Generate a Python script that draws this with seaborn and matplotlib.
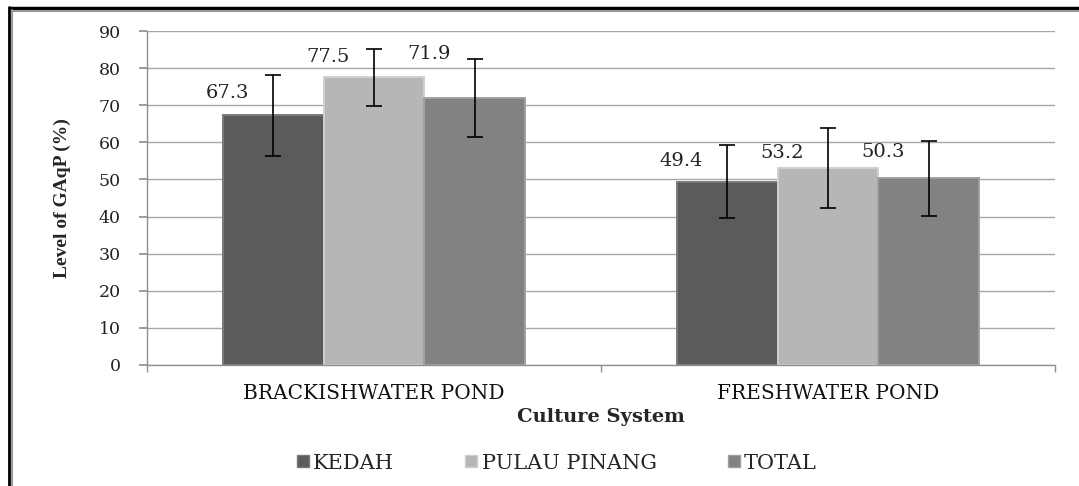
import matplotlib
matplotlib.use("Agg")
import matplotlib.pyplot as plt
from matplotlib.lines import Line2D
import numpy as np
import pandas as pd
import seaborn as sns

# ── data ───────────────────────────────────────────────────────────────────────
systems = ["BRACKISHWATER POND", "FRESHWATER POND"]
regions = ["KEDAH", "PULAU PINANG", "TOTAL"]
kedah = [67.3, 49.4]
pulau = [77.5, 53.2]
total = [71.9, 50.3]
kedah_err = [11.0, 9.9]
pulau_err = [7.6, 10.8]
total_err = [10.5, 10.2]
label_dy = [[6.0, 5.5], [5.5, 4.0], [12.0, 7.0]]  # label lift above bar, per region

colors = ["#5b5b5b", "#b6b6b6", "#828282"]
edges = ["#7a7a7a", "#d0d0d0", "#a0a0a0"]

df = pd.DataFrame({
    "system": systems * 3,
    "region": np.repeat(regions, len(systems)),
    "value": kedah + pulau + total,
    "err": kedah_err + pulau_err + total_err,
})

sns.set_theme(style="white")
plt.rcParams["font.family"] = ["DejaVu Serif", "Liberation Serif"]

fig = plt.figure(figsize=(10.79, 4.86), dpi=100)
ax = fig.add_axes([0.1362, 0.249, 0.8416, 0.687])

sns.barplot(data=df, x="system", y="value", hue="region", hue_order=regions,
            palette=colors, width=0.667, errorbar=None, ax=ax,
            linewidth=1.4, legend=False)

bar_groups = list(ax.containers)

# error bars + labels
for i, cont in enumerate(bar_groups):
    sub = df[df["region"] == regions[i]]
    for j, bar in enumerate(cont):
        bar.set_edgecolor(edges[i])
        xc = bar.get_x() + bar.get_width() / 2
        val = sub["value"].iloc[j]
        ax.errorbar(xc, val, yerr=sub["err"].iloc[j], fmt="none",
                    ecolor="black", elinewidth=1.2, capsize=6, capthick=1.2, zorder=5)
        ax.text(xc - bar.get_width() * 0.45, val + label_dy[i][j], f"{val:.1f}",
                ha="center", va="center", fontsize=14, color="#222222")

ax.set_ylim(0, 90)
ax.set_xlim(-0.5, 1.5)
ax.set_yticks(range(0, 91, 10))
ax.yaxis.grid(True, color="#a8a8a8", linewidth=1.0)
ax.set_axisbelow(True)
for s in ["top", "right"]:
    ax.spines[s].set_visible(False)
for s in ["left", "bottom"]:
    ax.spines[s].set_color("#909090")
    ax.spines[s].set_linewidth(1.0)

ax.tick_params(axis="y", left=True, length=6, color="#909090", labelsize=12.5,
               labelcolor="#222222", pad=13)
ax.tick_params(axis="x", bottom=False, labelsize=14.5, labelcolor="#111111", pad=8)
ax.set_xticks([-0.5, 0.5, 1.5], minor=True)
ax.tick_params(axis="x", which="minor", bottom=True, length=5, color="#909090")

ax.set_xlabel("Culture System", fontsize=14, fontweight="bold", labelpad=3)
ax.set_ylabel("Level of GAqP (%)", fontsize=14, fontweight="bold", labelpad=20,
              family="Liberation Serif")

handles = [Line2D([], [], marker="s", linestyle="none", markersize=8,
                  markerfacecolor=c, markeredgecolor=e) for c, e in zip(colors, edges)]
fig.legend(handles, regions, loc="center", bbox_to_anchor=(0.514, 0.047), ncol=3,
           frameon=False, fontsize=15, handletextpad=0.0, columnspacing=3.2,
           handlelength=1.0)

# outer frame (top and left edges)
fig.add_artist(Line2D([10 / 1079, 1], [1 - 8 / 486] * 2, color="black", linewidth=2.5,
                      transform=fig.transFigure))
fig.add_artist(Line2D([12 / 1079, 1], [1 - 11 / 486] * 2, color="#999999", linewidth=1.5,
                      transform=fig.transFigure))
fig.add_artist(Line2D([9 / 1079] * 2, [0, 1 - 7 / 486], color="black", linewidth=2.0,
                      transform=fig.transFigure))
fig.add_artist(Line2D([12 / 1079] * 2, [0, 1 - 10 / 486], color="#999999", linewidth=1.5,
                      transform=fig.transFigure))

fig.savefig("out.png", dpi=100)
